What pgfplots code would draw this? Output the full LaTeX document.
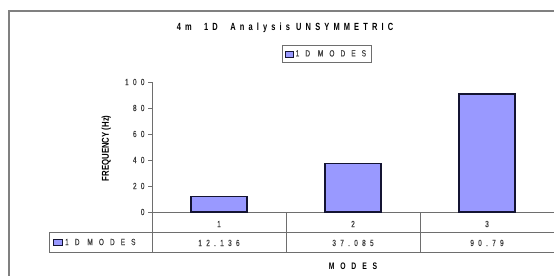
\documentclass[border=0pt]{standalone}
\usepackage{fontspec}
\setmainfont{Liberation Sans}
\newfontfamily\xlsnum[FakeStretch=0.72,LetterSpace=48,FakeBold=0.6]{Liberation Sans}
\newfontfamily\xlslab[FakeStretch=0.72,LetterSpace=68,FakeBold=0.6]{Liberation Sans}
\newfontfamily\titlefont[FakeStretch=0.72,LetterSpace=40]{Liberation Sans Bold}
\newfontfamily\xlabfont[FakeStretch=0.72,LetterSpace=62]{Liberation Sans Bold}
\newfontfamily\ylabfont[FakeStretch=0.78]{Liberation Sans Bold}
\usepackage{pgfplots}
\pgfplotsset{compat=1.18}
\usepackage{pgfplotstable}
\definecolor{barfill}{RGB}{153,153,255}
\definecolor{gridgray}{RGB}{110,110,110}
\definecolor{barline}{RGB}{20,20,50}
\definecolor{txtgray}{RGB}{60,60,60}

\pgfplotstableread{
x y lab
1 12.136 12.136
2 37.085 37.085
3 90.79 90.79
}\modes

\begin{document}
\begin{tikzpicture}[x=1bp,y=1bp]
\useasboundingbox (0,0) rectangle (554,275);
\draw[color=gray, line width=1.2bp] (9,-5) -- (9,264) -- (570,264);
\node[font=\titlefont\fontsize{10.4}{12}\selectfont] at (285,247) {4m\ \ 1D\ \ Analysis UNSYMMETRIC};
\begin{axis}[
  at={(152bp,63bp)}, anchor=south west,
  scale only axis, width=402bp, height=130bp,
  xmin=0.5, xmax=3.5, ymin=0, ymax=100,
  clip=false,
  axis y line=left, axis x line=bottom,
  axis line style={-, draw=gridgray, line width=0.8bp},
  xtick={1,2,3}, xticklabels={1,2,3},
  xtick style={draw=none},
  xticklabel style={anchor=center, yshift=-8bp, text=txtgray, font=\xlsnum\fontsize{9}{11}\selectfont},
  ytick={0,20,...,100},
  tick align=outside, major tick length=4bp,
  ytick style={draw=gridgray, line width=0.8bp},
  yticklabel style={text=txtgray, font=\xlsnum\fontsize{9}{11}\selectfont},
  /pgf/number format/assume math mode=true,
  ylabel={FREQUENCY (Hz)},
  ylabel style={at={(axis description cs:-0.114,0.49)}, anchor=center, font=\ylabfont\fontsize{10}{12}\selectfont},
  xlabel={MODES},
  xlabel style={at={(axis description cs:0.5,-0.415)}, anchor=center, font=\xlabfont\fontsize{9.5}{11}\selectfont},
  legend style={at={(axis description cs:0.434,1.215)}, anchor=center, draw=gridgray, line width=0.8bp,
    text=txtgray, font=\xlslab\fontsize{9}{11}\selectfont, inner xsep=3bp, inner ysep=2.5bp},
  legend image code/.code={\draw[fill=barfill, draw=barline, line width=0.8bp] (0bp,-3bp) rectangle (8bp,3bp);},
]
\addplot[ybar, bar width=56bp, fill=barfill, draw=barline, line width=1.1bp] table[x=x,y=y]{\modes};
\addlegendentry{1D MODES}
\addplot[draw=none, mark=none, forget plot, nodes near coords, point meta=explicit symbolic,
  every node near coord/.style={anchor=center, text=txtgray, font=\xlsnum\fontsize{9}{11}\selectfont}]
  table[x=x, y expr=-23.8, meta=lab]{\modes};
\end{axis}
\begin{scope}[gridgray, line width=0.8bp]
\draw (49,43) -- (554,43);
\draw (49,23) -- (554,23);
\draw (49,43) -- (49,23);
\draw (152,63) -- (152,23);
\draw (286,63) -- (286,23);
\draw (420,63) -- (420,23);
\end{scope}
\draw[fill=barfill, draw=barline, line width=0.8bp] (53,30) rectangle (62,36);
\node[anchor=west, inner sep=0pt, text=txtgray, font=\xlslab\fontsize{9}{11}\selectfont] at (65,33) {1D MODES};
\end{tikzpicture}
\end{document}
